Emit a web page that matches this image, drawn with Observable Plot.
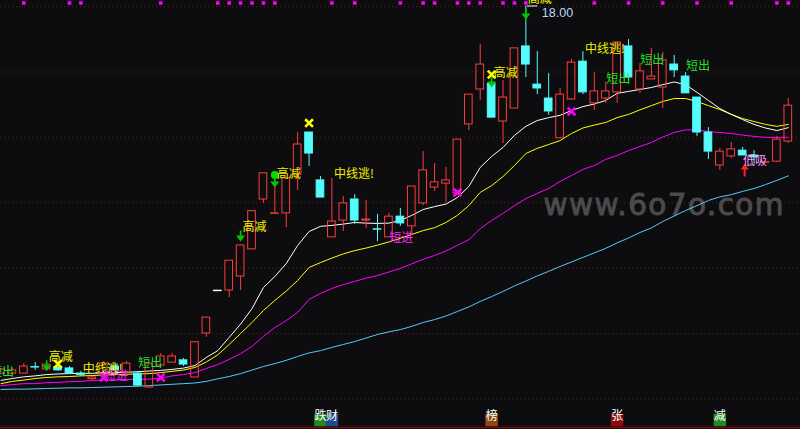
<!DOCTYPE html>
<html><head><meta charset="utf-8">
<script src="https://cdn.jsdelivr.net/npm/d3@7"></script>
<script src="https://cdn.jsdelivr.net/npm/@observablehq/plot@0.6"></script>
<style>html,body{margin:0;padding:0;background:#0d0d10;overflow:hidden}</style>
</head><body><div id="chart"></div>
<script>
// ---- daily candles (price) ----
const open  = [6.64,6.64,6.64,6.86,6.77,6.83,6.80,6.64,6.47,6.64,6.86,6.67,6.64,6.21,6.89,6.98,7.05,6.52,7.88,9.21,9.21,9.64,10.48,12.02,11.59,11.59,12.79,14.09,12.61,10.85,11.37,12.02,11.37,11.12,10.85,11.49,11.19,11.90,12.39,12.51,12.21,14.34,15.42,15.60,14.43,14.83,16.75,15.57,15.14,13.91,15.11,16.28,14.99,15.14,15.33,16.75,15.42,15.73,15.48,16.19,15.82,15.17,14.09,13.07,13.35,13.53,13.38,13.15,13.19,13.81];
const high  = [6.80,6.80,6.95,6.98,6.98,6.89,6.86,6.71,6.55,7.01,6.92,7.01,6.71,6.98,7.26,7.26,7.11,7.61,8.37,9.21,10.13,10.60,11.66,12.83,12.70,12.67,14.09,14.09,12.73,12.67,12.11,12.17,11.99,11.56,11.59,11.74,12.42,13.50,13.13,13.01,13.87,15.26,16.81,15.60,15.70,16.69,18.00,16.59,15.91,15.45,16.35,16.59,15.94,15.64,16.87,16.96,16.22,16.69,16.56,16.47,15.94,15.17,14.24,13.60,13.78,13.63,13.53,13.18,13.97,15.14];
const low   = [6.61,6.61,6.64,6.74,6.74,6.71,6.61,6.55,6.43,6.61,6.67,6.64,6.24,6.18,6.86,6.98,6.86,6.52,7.76,9.21,8.99,9.21,10.48,11.90,11.59,11.15,12.30,13.04,12.08,10.85,11.03,11.25,11.12,10.72,10.85,11.19,10.91,11.83,12.27,11.93,12.21,14.15,15.08,14.55,13.75,14.83,15.79,15.26,14.62,13.91,15.08,15.26,14.77,14.99,14.99,15.70,15.30,15.73,14.83,15.79,15.30,13.97,13.26,12.92,13.29,13.38,13.13,13.15,13.16,13.75];
const close = [6.77,6.74,6.86,6.85,6.92,6.74,6.64,6.60,6.52,6.95,6.74,6.95,6.27,6.95,7.17,7.17,6.92,7.61,8.37,9.21,10.13,10.60,11.66,12.83,11.60,12.67,13.72,13.44,12.08,11.34,11.90,11.37,11.40,11.11,11.49,11.28,12.42,12.92,12.55,12.61,13.87,15.26,16.19,14.55,15.17,16.69,16.19,15.45,14.74,15.26,16.25,15.33,15.36,15.36,16.87,15.79,15.98,15.82,16.32,16.01,15.30,14.09,13.50,13.50,13.57,13.38,13.32,13.18,13.87,14.92];

// ---- moving-average lines (price) ----
const maWhite  = [6.43,6.49,6.54,6.57,6.61,6.63,6.64,6.65,6.65,6.66,6.67,6.68,6.70,6.72,6.74,6.77,6.81,6.89,7.14,7.35,7.76,8.17,8.65,9.30,9.64,10.04,10.60,11.03,11.19,11.22,11.26,11.31,11.29,11.28,11.29,11.37,11.53,11.71,11.80,11.88,12.08,12.42,13.01,13.35,13.63,14.00,14.28,14.46,14.55,14.62,14.77,14.89,14.97,15.08,15.30,15.36,15.42,15.48,15.57,15.65,15.57,15.33,15.08,14.83,14.65,14.49,14.34,14.23,14.15,14.24];
const maYellow = [6.33,6.40,6.44,6.49,6.52,6.54,6.55,6.57,6.58,6.60,6.61,6.62,6.63,6.64,6.67,6.71,6.75,6.83,7.00,7.22,7.54,7.88,8.22,8.59,8.90,9.19,9.52,9.92,10.07,10.21,10.34,10.44,10.52,10.61,10.71,10.82,10.94,11.06,11.15,11.31,11.53,11.83,12.24,12.45,12.73,13.07,13.44,13.60,13.72,13.84,14.06,14.23,14.32,14.40,14.55,14.65,14.79,14.92,15.05,15.14,15.14,15.05,14.92,14.80,14.65,14.52,14.43,14.34,14.28,14.34];
const maMagenta= [6.27,6.30,6.33,6.33,6.36,6.37,6.39,6.40,6.43,6.44,6.45,6.46,6.46,6.47,6.50,6.57,6.61,6.67,6.80,6.92,7.08,7.26,7.48,7.79,8.06,8.28,8.53,8.93,9.12,9.27,9.39,9.49,9.59,9.67,9.78,9.89,10.03,10.17,10.29,10.43,10.60,10.78,11.12,11.37,11.59,11.83,12.05,12.21,12.36,12.58,12.76,12.95,13.07,13.26,13.38,13.53,13.66,13.78,13.95,14.09,14.17,14.17,14.12,14.09,14.06,14.01,13.97,13.94,13.94,13.94];
const maBlue   = [6.15,6.16,6.16,6.17,6.18,6.19,6.20,6.20,6.21,6.22,6.23,6.24,6.25,6.27,6.29,6.31,6.33,6.35,6.40,6.48,6.55,6.64,6.75,6.86,6.95,7.05,7.17,7.28,7.35,7.45,7.54,7.63,7.74,7.85,7.93,8.00,8.10,8.22,8.31,8.42,8.56,8.70,8.87,9.02,9.18,9.35,9.50,9.66,9.80,9.95,10.09,10.23,10.37,10.51,10.68,10.83,11.00,11.14,11.34,11.51,11.68,11.83,11.99,12.10,12.17,12.27,12.36,12.48,12.61,12.75];

// ---- grid levels, signals, annotations ----
const gridLevels = [5.86,7.88,9.90,11.92,13.94,15.96,17.98];
const topSignals = [2,6,7,14,19,20,21,22,23,24,29,31,35,37,38,40,41,42,44,45,46,52,55,58,61,64,68,69];
const yellowXIdx = [5,27,43];      const yellowXPrice = [6.94,14.38,15.88];
const magentaXIdx = [9,14,40,50];  const magentaXPrice = [6.52,6.52,12.24,14.74];
const downArrowIdx = [4,21,24,43,46]; const downArrowPrice = [6.71,10.72,12.39,15.48,17.58];
const greenDotIdx = [24];          const greenDotPrice = [12.78];
const upArrowIdx = [65];           const upArrowPrice = [13.13];
const annIdx   = [0,4,7,10,13,21,24,29,35,43,46,51,54,57,61,66];
const annPrice = [6.67,7.14,6.77,6.55,6.95,11.15,12.79,12.79,10.82,15.93,18.22,16.67,15.73,16.33,16.13,13.19];
const annText  = ["短出","高减","中线逃!","短进","短出","高减","高减","中线逃!","短进","高减","高减","中线逃!","短出","短出","短出","低吸"];
const tagIdx  = [28,29,43,54,63];
const tagText = ["跌","财","榜","张","减"];
const peakIdx = 46;

// ---- styling ----
const RED="#ff3c3c", CYAN="#54fcfc", BG="#0d0d10";
const annColor = {"短出":"#22e022","高减":"#f2f200","中线逃!":"#f0f000","短进":"#ff22ff","低吸":"#ff99ff"};
const annAnchor = {"短出":"middle","高减":"start","中线逃!":"start","短进":"middle","低吸":"middle"};
const tagBg = {"跌":"#1f8a1f","财":"#1b4d8c","榜":"#8c4a12","张":"#8a0c0c","减":"#1f8a1f"};
const CJK = "Noto Sans CJK SC";

const candles = open.map((o,i)=>({i,o,h:high[i],l:low[i],c:close[i]}));
const isFlat = d => d.h === d.l;
const up = candles.filter(d => !isFlat(d) && d.c >= d.o);
const dn = candles.filter(d => !isFlat(d) && d.c < d.o);
const flat = candles.filter(isFlat);
const hw = 0.38;
const pts = (ix, pr) => ix.map((i,k)=>({i, p: pr[k]}));
const anns = annIdx.map((i,k)=>({i, p: annPrice[k], t: annText[k]}));
const tags = tagIdx.map((i,k)=>({i, t: tagText[k]}));

const arrowDown = {draw(ctx){ctx.moveTo(-0.8,-11);ctx.lineTo(0.8,-11);ctx.lineTo(0.8,-6);ctx.lineTo(4.5,-6);ctx.lineTo(0,0);ctx.lineTo(-4.5,-6);ctx.lineTo(-0.8,-6);ctx.closePath();}};
const arrowUp = {draw(ctx){ctx.moveTo(0,0);ctx.lineTo(4,6);ctx.lineTo(1,6);ctx.lineTo(1,13);ctx.lineTo(-1,13);ctx.lineTo(-1,6);ctx.lineTo(-4,6);ctx.closePath();}};

function candleMarks(data, color, filled){
  return [
    Plot.ruleX(data,{x:"i", y1:"h", y2:d=>Math.max(d.o,d.c), stroke:color}),
    Plot.ruleX(data,{x:"i", y1:d=>Math.min(d.o,d.c), y2:"l", stroke:color}),
    Plot.rect(data.filter(d=>Math.abs(d.c-d.o)>=0.03),{x1:d=>d.i-hw, x2:d=>d.i+hw, y1:"o", y2:"c",
      fill: filled ? color : "none", stroke: color, insetLeft:0.5, insetRight:0.5}),
    Plot.ruleY(data.filter(d=>Math.abs(d.c-d.o)<0.03),{x1:d=>d.i-hw, x2:d=>d.i+hw, y:"c", stroke:color, strokeWidth:1.5})
  ];
}

const annMarks = ["start","middle"].map(anchor =>
  Plot.text(anns.filter(d=>annAnchor[d.t]===anchor),{x:"i", y:"p", text:"t", fill:d=>annColor[d.t],
    textAnchor:anchor, dx: anchor==="start"?2:1, fontSize:12, fontFamily:CJK}));

const svg = Plot.plot({
  width:800, height:429, margin:0,
  style:{background:BG, overflow:"hidden"},
  x:{domain:[-0.0438,70.07], axis:null},
  y:{domain:[4.913,18.169], axis:null},
  color:{type:"identity"},
  marks:[
    Plot.ruleY(gridLevels,{stroke:"#6e1c1c", strokeDasharray:"1,3"}),
    Plot.text(["www.6o7o.com"],{text:d=>d, frameAnchor:"top-left", textAnchor:"start", dx:543, dy:194,
      fontSize:29.5, fontFamily:"DejaVu Sans", fill:"#4b4b4b", stroke:"#4b4b4b", strokeWidth:1}),
    Plot.lineY(maBlue,{stroke:"#5ac8fa", strokeWidth:1}),
    Plot.lineY(maMagenta,{stroke:"#ff00ff", strokeWidth:1}),
    Plot.lineY(maYellow,{stroke:"#ffff00", strokeWidth:1}),
    Plot.lineY(maWhite,{stroke:"#ffffff", strokeWidth:1}),
    ...candleMarks(up, RED, false),
    ...candleMarks(dn, CYAN, true),
    Plot.ruleY(flat,{x1:d=>d.i-hw, x2:d=>d.i+hw, y:"c", stroke:"#ffffff", strokeWidth:1.5}),
    Plot.dot(topSignals,{x:d=>d, frameAnchor:"top", dy:2.5, symbol:"square", r:2, fill:"#ff00ff"}),
    Plot.dot(pts(greenDotIdx,greenDotPrice),{x:"i", y:"p", r:4, fill:"#00e000"}),
    Plot.dot(pts(downArrowIdx,downArrowPrice),{x:"i", y:"p", symbol:arrowDown, fill:"#00c800", r:4}),
    Plot.dot(pts(upArrowIdx,upArrowPrice),{x:"i", y:"p", dx:2, symbol:arrowUp, fill:"#ff2020", r:4}),
    ...annMarks,
    Plot.dot(pts(yellowXIdx,yellowXPrice),{x:"i", y:"p", symbol:"times", r:3.6, stroke:"#ffff00", strokeWidth:2.5}),
    Plot.dot(pts(magentaXIdx,magentaXPrice),{x:"i", y:"p", symbol:"times", r:3.6, stroke:"#ff00ff", strokeWidth:2.5}),
    Plot.link([peakIdx],{x1:d=>d+0.1, x2:d=>d+1.0, y1:d=>high[d], y2:d=>high[d], stroke:"#ffffff"}),
    Plot.text([peakIdx],{x:d=>d, y:d=>high[d], text:d=>high[d].toFixed(2), dx:16, dy:7, textAnchor:"start",
      fill:"#b8d8f8", fontSize:12.5, fontFamily:"Liberation Sans"}),
    Plot.dot(tags,{x:"i", frameAnchor:"bottom", dy:-9.5, symbol:"square", r:7.05, fill:d=>tagBg[d.t]}),
    Plot.text(tags,{x:"i", frameAnchor:"bottom", dy:-9.5, text:"t", fill:"#ffffff", fontSize:12, fontFamily:CJK})
  ]
});
d3.select(svg).selectAll("text").filter(function(){ return this.textContent === "www.6o7o.com"; })
  .attr("letter-spacing", "1.4px");
d3.select(svg).append("line").attr("x1",0).attr("x2",800).attr("y1",427.5).attr("y2",427.5)
  .attr("stroke","#7a0a0a").attr("stroke-width",1.5);
document.getElementById("chart").appendChild(svg);
</script>
</body></html>
